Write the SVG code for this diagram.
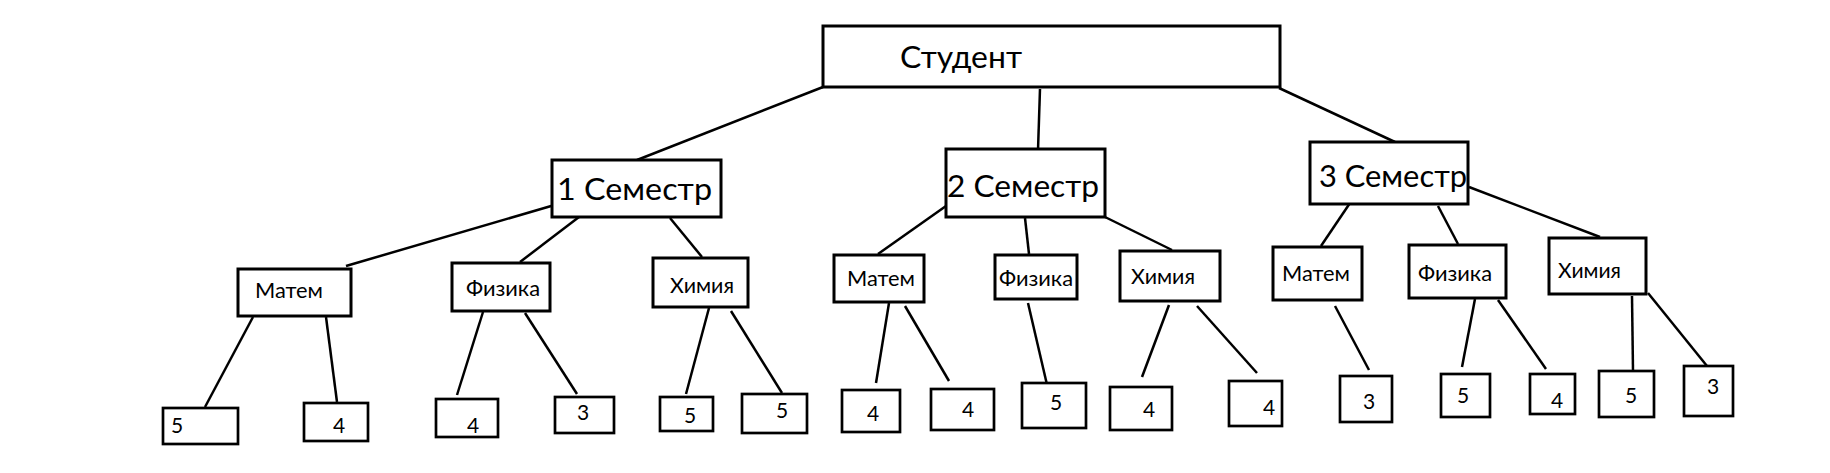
<svg xmlns="http://www.w3.org/2000/svg" width="1830" height="473" viewBox="0 0 1830 473">
<style>
.b{fill:#fff;stroke:#000;stroke-width:3}
.l{fill:#fff;stroke:#000;stroke-width:2.7}
.c line{stroke:#000;stroke-width:2.5}
text{font-family:Lato,"Open Sans",sans-serif;fill:#000}
.t1{font-size:30px}
.t2{font-size:21px}
.t3{font-size:21px}
</style>
<rect width="1830" height="473" fill="#fff"/>
<g id="connectors" class="c">
<line x1="823" y1="87" x2="637" y2="160"/>
<line x1="1040" y1="89" x2="1038" y2="150"/>
<line x1="1279" y1="88" x2="1395" y2="142"/>
<line x1="558" y1="204" x2="346" y2="266"/>
<line x1="579" y1="217" x2="520" y2="262"/>
<line x1="670" y1="218" x2="702" y2="257"/>
<line x1="946" y1="206" x2="878" y2="254"/>
<line x1="1025" y1="218" x2="1029" y2="254"/>
<line x1="1105" y1="217" x2="1172" y2="250"/>
<line x1="1350" y1="203" x2="1321" y2="246"/>
<line x1="1438" y1="206" x2="1458" y2="244"/>
<line x1="1469" y1="187" x2="1600" y2="237"/>
<line x1="253" y1="317" x2="205" y2="407"/>
<line x1="326" y1="317" x2="337" y2="402"/>
<line x1="483" y1="312" x2="457" y2="395"/>
<line x1="525" y1="313" x2="577" y2="394"/>
<line x1="709" y1="308" x2="686" y2="394"/>
<line x1="731" y1="311" x2="782" y2="393"/>
<line x1="889" y1="303" x2="876" y2="383"/>
<line x1="905" y1="306" x2="949" y2="381"/>
<line x1="1028" y1="303" x2="1048" y2="389"/>
<line x1="1169" y1="305" x2="1142" y2="377"/>
<line x1="1197" y1="306" x2="1257" y2="373"/>
<line x1="1335" y1="306" x2="1369" y2="370"/>
<line x1="1475" y1="299" x2="1462" y2="367"/>
<line x1="1498" y1="300" x2="1546" y2="369"/>
<line x1="1632" y1="296" x2="1633" y2="371"/>
<line x1="1648" y1="293" x2="1707" y2="366"/>
</g>
<g id="student"><rect class="b" x="823" y="26" width="457" height="61"/><text class="t1" x="900" y="68" textLength="122" lengthAdjust="spacingAndGlyphs">Студент</text></g>
<g id="sem1"><rect class="b" x="552" y="160" width="169" height="57"/><text class="t1" x="557" y="200" textLength="155" lengthAdjust="spacingAndGlyphs">1 Семестр</text></g>
<g id="sem2"><rect class="b" x="946" y="149" width="159" height="68"/><text class="t1" x="947" y="197" textLength="152" lengthAdjust="spacingAndGlyphs">2 Семестр</text></g>
<g id="sem3"><rect class="b" x="1310" y="142" width="158" height="62"/><text class="t1" x="1319" y="187" textLength="148" lengthAdjust="spacingAndGlyphs">3 Семестр</text></g>
<g id="mat1"><rect class="b" x="238" y="269" width="113" height="47"/><text class="t2" x="255" y="298" textLength="68" lengthAdjust="spacingAndGlyphs">Матем</text></g>
<g id="fiz1"><rect class="b" x="452" y="263" width="98" height="48"/><text class="t2" x="466" y="296" textLength="74" lengthAdjust="spacingAndGlyphs">Физика</text></g>
<g id="him1"><rect class="b" x="653" y="258" width="95" height="49"/><text class="t2" x="670" y="293" textLength="64" lengthAdjust="spacingAndGlyphs">Химия</text></g>
<g id="mat2"><rect class="b" x="834" y="255" width="90" height="47"/><text class="t2" x="847" y="286" textLength="68" lengthAdjust="spacingAndGlyphs">Матем</text></g>
<g id="fiz2"><rect class="b" x="995" y="255" width="82" height="44"/><text class="t2" x="999" y="286" textLength="74" lengthAdjust="spacingAndGlyphs">Физика</text></g>
<g id="him2"><rect class="b" x="1120" y="251" width="100" height="50"/><text class="t2" x="1131" y="284" textLength="64" lengthAdjust="spacingAndGlyphs">Химия</text></g>
<g id="mat3"><rect class="b" x="1273" y="247" width="89" height="53"/><text class="t2" x="1282" y="281" textLength="68" lengthAdjust="spacingAndGlyphs">Матем</text></g>
<g id="fiz3"><rect class="b" x="1409" y="245" width="97" height="53"/><text class="t2" x="1418" y="281" textLength="74" lengthAdjust="spacingAndGlyphs">Физика</text></g>
<g id="him3"><rect class="b" x="1549" y="238" width="97" height="56"/><text class="t2" x="1558" y="278" textLength="63" lengthAdjust="spacingAndGlyphs">Химия</text></g>
<g id="g1"><rect class="l" x="163" y="408" width="75" height="36"/><text class="t3" x="171" y="433">5</text></g>
<g id="g2"><rect class="l" x="304" y="403" width="64" height="38"/><text class="t3" x="333" y="433">4</text></g>
<g id="g3"><rect class="l" x="436" y="399" width="62" height="38"/><text class="t3" x="467" y="433">4</text></g>
<g id="g4"><rect class="l" x="555" y="397" width="59" height="36"/><text class="t3" x="577" y="420">3</text></g>
<g id="g5"><rect class="l" x="660" y="397" width="53" height="34"/><text class="t3" x="684" y="423">5</text></g>
<g id="g6"><rect class="l" x="742" y="394" width="65" height="39"/><text class="t3" x="776" y="418">5</text></g>
<g id="g7"><rect class="l" x="842" y="390" width="58" height="42"/><text class="t3" x="867" y="421">4</text></g>
<g id="g8"><rect class="l" x="931" y="389" width="63" height="41"/><text class="t3" x="962" y="417">4</text></g>
<g id="g9"><rect class="l" x="1022" y="383" width="64" height="45"/><text class="t3" x="1050" y="410">5</text></g>
<g id="g10"><rect class="l" x="1110" y="387" width="62" height="43"/><text class="t3" x="1143" y="417">4</text></g>
<g id="g11"><rect class="l" x="1229" y="381" width="53" height="45"/><text class="t3" x="1263" y="415">4</text></g>
<g id="g12"><rect class="l" x="1340" y="376" width="52" height="46"/><text class="t3" x="1363" y="409">3</text></g>
<g id="g13"><rect class="l" x="1441" y="374" width="49" height="43"/><text class="t3" x="1457" y="403">5</text></g>
<g id="g14"><rect class="l" x="1530" y="374" width="45" height="40"/><text class="t3" x="1551" y="408">4</text></g>
<g id="g15"><rect class="l" x="1599" y="371" width="55" height="46"/><text class="t3" x="1625" y="403">5</text></g>
<g id="g16"><rect class="l" x="1684" y="366" width="49" height="50"/><text class="t3" x="1707" y="394">3</text></g>
</svg>
